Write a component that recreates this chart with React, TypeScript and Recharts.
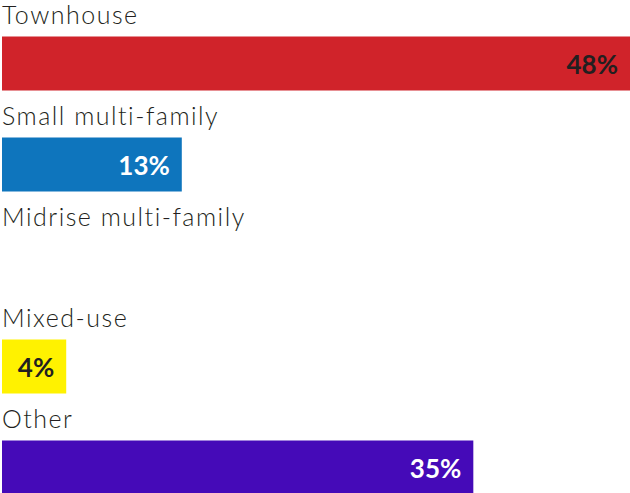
import React from 'react';
import { BarChart, Bar, XAxis, YAxis, Cell, LabelList } from 'recharts';

const categories = ['Townhouse', 'Small multi-family', 'Midrise multi-family', 'Mixed-use', 'Other'];
const shares: (number | null)[] = [47.6, 12.7, null, 3.7, 35.4];
const barColors = ['#d0232a', '#0e75bd', '#9e9e9e', '#fff200', '#450ab8'];
const valueColors = ['#231f20', '#ffffff', '#231f20', '#231f20', '#ffffff'];
const shareDomain: [number, number] = [-1.3, 47.6];

const chartData = categories.map((name, i) => ({ name, share: shares[i] }));

const LEFT = 2;

// bars run from the left end of the axis to the share
const barRange = (d: { share: number | null }) => [shareDomain[0], d.share ?? shareDomain[0]];

const CategoryTick = (props: any) => {
    const { y, payload } = props;
    return (
        <text
            x={LEFT}
            y={y - 39}
            fill="#231f20"
            fontFamily="Lato, sans-serif"
            fontWeight={300}
            fontSize={25}
            letterSpacing={1.5}
            textAnchor="start"
        >
            {payload.value}
        </text>
    );
};

const ValueLabel = (props: any) => {
    const i = categories.indexOf(props.value);
    const share = shares[i];
    if (share == null) return null;
    const vb = props.viewBox || props;
    return (
        <text
            x={vb.x + vb.width - 12}
            y={vb.y + vb.height / 2}
            fill={valueColors[i]}
            fontFamily="Lato, sans-serif"
            fontWeight={700}
            fontSize={26}
            textAnchor="end"
            dominantBaseline="central"
        >
            {Math.round(share)}%
        </text>
    );
};

const App: React.FC = () => (
    <div style={{ position: 'absolute', left: 0, top: 0 }}>
        <BarChart
            width={630}
            height={520}
            data={chartData}
            layout="vertical"
            barSize={54}
            margin={{ top: 12.5, right: 0, bottom: 2.5, left: LEFT - 1 }}
        >
            <XAxis type="number" hide domain={shareDomain} allowDataOverflow />
            <YAxis
                type="category"
                dataKey="name"
                width={1}
                axisLine={false}
                tickLine={false}
                interval={0}
                tick={<CategoryTick />}
            />
            <Bar dataKey={barRange} isAnimationActive={false}>
                {chartData.map((d, i) => (
                    <Cell key={d.name} fill={barColors[i]} />
                ))}
                <LabelList dataKey="name" content={<ValueLabel />} />
            </Bar>
        </BarChart>
    </div>
);

export default App;
